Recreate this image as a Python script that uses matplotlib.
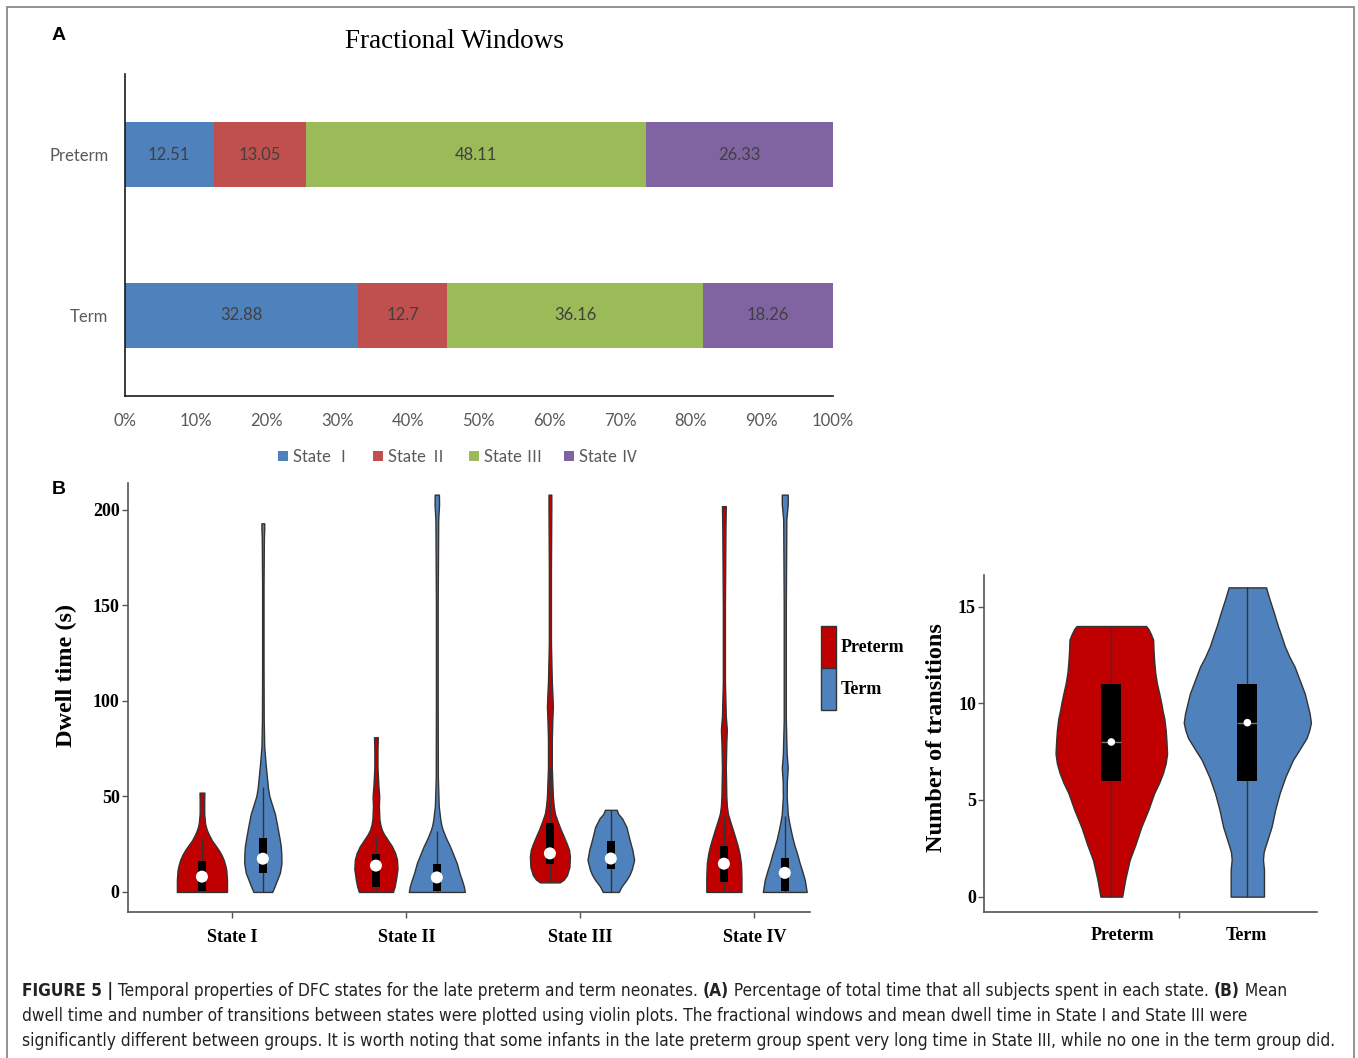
import os
import numpy as np
import matplotlib.pyplot as plt
from matplotlib import font_manager
from matplotlib.font_manager import FontProperties
from matplotlib.patches import Rectangle, Patch

# ---------------- data ----------------
groups = ['Term', 'Preterm']
states = ['State \u2160', 'State \u2161', 'State \u2162', 'State \u2163']
state_colors = ['#4F81BD', '#C0504D', '#9BBB59', '#8064A2']
frac_term = [32.88, 12.7, 36.16, 18.26]
frac_preterm = [12.51, 13.05, 48.11, 26.33]

dwell_states = ['State I', 'State II', 'State III', 'State IV']
group_names = ['Preterm', 'Term']
group_colors = ['#C00000', '#4F81BD']

# violin outlines for dwell time: levels (s) and half width (x units)
dwell_levels = {
    ('State I', 'Preterm'): [0, 6.3, 11.5, 14, 16.8, 19.5, 22, 24.5, 27, 30, 32.3, 34, 36, 41, 48, 52],
    ('State I', 'Term'): [0, 3, 6.3, 10, 15, 20, 24, 28, 32, 36, 41, 45, 50, 54, 58.6, 67, 76, 90, 120, 160,
                          185, 190, 193],
    ('State II', 'Preterm'): [0, 3, 6.3, 12, 17, 20.5, 24, 26, 28, 30, 32.5, 35, 38, 45, 50, 56, 65, 75, 81],
    ('State II', 'Term'): [0, 3, 6.3, 10, 15, 20, 24, 28, 32.5, 35, 38, 45, 60, 100, 150, 195, 203, 208],
    ('State III', 'Preterm'): [5, 6.5, 8.8, 13, 18.5, 22, 25, 29, 32.5, 37, 41, 45, 50, 65, 80, 90, 97, 104, 110,
                               130, 170, 200, 208],
    ('State III', 'Term'): [0, 2.8, 6.3, 9, 12, 16.8, 22, 27, 31, 34, 38.5, 41, 43],
    ('State IV', 'Preterm'): [0, 8, 15, 20, 24, 28, 32.5, 37, 41, 45, 50, 65, 78, 85, 92, 110, 150, 190, 202],
    ('State IV', 'Term'): [0, 6.3, 11, 15, 20, 24, 28, 32.5, 37, 41, 50, 58, 65, 72, 90, 150, 195, 203, 208],
}
dwell_widths = {
    ('State I', 'Preterm'): [0.144, 0.144, 0.140, 0.134, 0.125, 0.112, 0.096, 0.077, 0.057, 0.040, 0.029,
                             0.023, 0.018, 0.013, 0.013, 0.014],
    ('State I', 'Term'): [0.054, 0.068, 0.082, 0.098, 0.107, 0.106, 0.103, 0.096, 0.088, 0.080, 0.069, 0.055,
                          0.038, 0.030, 0.025, 0.016, 0.008, 0.005, 0.004, 0.004, 0.006, 0.008, 0.008],
    ('State II', 'Preterm'): [0.098, 0.108, 0.115, 0.124, 0.121, 0.110, 0.092, 0.077, 0.063, 0.048, 0.034,
                              0.026, 0.020, 0.017, 0.019, 0.014, 0.009, 0.009, 0.011],
    ('State II', 'Term'): [0.161, 0.155, 0.144, 0.130, 0.115, 0.093, 0.075, 0.054, 0.034, 0.026, 0.020,
                           0.011, 0.006, 0.005, 0.005, 0.008, 0.013, 0.012],
    ('State III', 'Preterm'): [0.057, 0.080, 0.098, 0.112, 0.115, 0.110, 0.098, 0.080, 0.063, 0.044, 0.029,
                               0.022, 0.017, 0.011, 0.011, 0.014, 0.017, 0.014, 0.011, 0.006, 0.006, 0.008,
                               0.008],
    ('State III', 'Term'): [0.046, 0.061, 0.090, 0.108, 0.121, 0.134, 0.124, 0.109, 0.098, 0.090, 0.065,
                            0.042, 0.034],
    ('State IV', 'Preterm'): [0.101, 0.101, 0.098, 0.090, 0.080, 0.067, 0.052, 0.036, 0.023, 0.017, 0.014,
                              0.011, 0.014, 0.017, 0.011, 0.006, 0.006, 0.009, 0.011],
    ('State IV', 'Term'): [0.126, 0.115, 0.100, 0.086, 0.071, 0.057, 0.045, 0.034, 0.024, 0.017, 0.011,
                           0.012, 0.017, 0.011, 0.006, 0.006, 0.009, 0.017, 0.017],
}
# box stats: whisker low, q1, median, q3, whisker high
dwell_box = {
    ('State I', 'Preterm'): [0, 0.5, 8, 16, 28],
    ('State I', 'Term'): [0, 10, 17.4, 28, 55],
    ('State II', 'Preterm'): [0, 2.8, 13.8, 19.7, 30],
    ('State II', 'Term'): [0, 0.5, 7.6, 14.5, 32],
    ('State III', 'Preterm'): [5, 14.7, 20.2, 36, 65],
    ('State III', 'Term'): [0, 11.8, 17.5, 26.8, 43],
    ('State IV', 'Preterm'): [0, 5.2, 14.8, 24.2, 40],
    ('State IV', 'Term'): [0, 0.5, 10, 18, 40],
}

# number of transitions
trans_levels = {
    'Preterm': [0, 0.9, 1.9, 2.7, 3.6, 4.5, 5.35, 5.9, 6.4, 6.9, 7.4, 8.1, 8.6, 9.2, 9.6, 10, 10.5, 11.05,
                11.6, 12.2, 12.8, 13.3, 13.6, 13.85, 14],
    'Term': [0, 1.4, 1.9, 2.3, 2.6, 3.1, 3.6, 4.5, 5.35, 6.2, 7.07, 7.6, 8.2, 8.6, 9.0, 9.49, 10, 10.5, 11.2,
             11.9, 12.4, 12.96, 13.5, 14, 14.7, 15.35, 15.7, 16],
}
trans_widths = {
    'Preterm': [0.032, 0.041, 0.054, 0.071, 0.088, 0.109, 0.126, 0.141, 0.152, 0.160, 0.164, 0.162, 0.160,
                0.156, 0.151, 0.147, 0.141, 0.134, 0.129, 0.126, 0.124, 0.123, 0.116, 0.109, 0.102],
    'Term': [0.049, 0.049, 0.046, 0.048, 0.053, 0.062, 0.071, 0.082, 0.095, 0.112, 0.134, 0.153, 0.174,
             0.182, 0.187, 0.183, 0.176, 0.169, 0.154, 0.139, 0.124, 0.110, 0.100, 0.090, 0.078, 0.066,
             0.060, 0.055],
}
trans_box = {
    'Preterm': [0, 6, 8, 11, 14],
    'Term': [0, 6, 9, 11, 16],
}

caption_lines = [
    [('FIGURE 5 |', True), (' Temporal properties of DFC states for the late preterm and term neonates. ', False),
     ('(A)', True), (' Percentage of total time that all subjects spent in each state. ', False),
     ('(B)', True), (' Mean', False)],
    [('dwell time and number of transitions between states were plotted using violin plots. The fractional '
      'windows and mean dwell time in State I and State III were', False)],
    [('significantly different between groups. It is worth noting that some infants in the late preterm group '
      'spent very long time in State III, while no one in the term group did.', False)],
]

# ---------------- figure ----------------
W, H = 1358, 1058
fig = plt.figure(figsize=(W / 100, H / 100), dpi=100)


def fx(x):
    return x / W


def fy(y):
    return 1 - y / H


def find_font(files):
    have = {os.path.basename(f.fname): f.fname for f in font_manager.fontManager.ttflist}
    for name in files:
        if name in have:
            return have[name]
    return None


cap_reg = find_font(['LiberationSansNarrow-Regular.ttf', 'DejaVuSansCondensed.ttf',
                     'RobotoCondensed-Regular.ttf', 'RobotoCondensed-Light.ttf'])
cap_bold = find_font(['LiberationSansNarrow-Bold.ttf', 'DejaVuSansCondensed-Bold.ttf',
                      'RobotoCondensed-Bold.ttf'])


def cap_props(bold):
    path = cap_bold if bold else cap_reg
    if path:
        return FontProperties(fname=path)
    return FontProperties(family='Liberation Sans', weight='bold' if bold else 'normal')


sans_a = ['Lato', 'Noto Sans CJK SC', 'DejaVu Sans']
serif = 'Liberation Serif'
dark = '#333333'

# frame
fig.add_artist(Rectangle((fx(7), fy(1080)), fx(1354) - fx(7), fy(7) - fy(1080), transform=fig.transFigure,
                         fill=False, edgecolor='#8a8a8a', lw=1.3))

# ---------------- panel A ----------------
ax_a = fig.add_axes([fx(125), fy(396), (832.5 - 125) / W, (396 - 74) / H])
ypos = np.arange(len(groups))
lefts = np.zeros(len(groups))
for i, st in enumerate(states):
    vals = np.array([frac_term[i], frac_preterm[i]])
    ax_a.barh(ypos, vals, left=lefts, height=0.4, color=state_colors[i], label=st)
    for y, l, v in zip(ypos, lefts, vals):
        ax_a.text(l + v / 2, y, f'{v:g}', ha='center', va='center', fontsize=12, color='#404040', family=sans_a)
    lefts += vals
ax_a.set_xlim(0, 100)
ax_a.set_ylim(-0.5, 1.5)
ax_a.set_xticks(np.arange(0, 101, 10))
ax_a.set_xticklabels([f'{v}%' for v in range(0, 101, 10)], family=sans_a, fontsize=12, color='#595959')
ax_a.set_yticks(ypos)
ax_a.set_yticklabels(groups, family=sans_a, fontsize=12, color='#595959')
ax_a.tick_params(length=0)
ax_a.tick_params(axis='x', pad=12)
ax_a.tick_params(axis='y', pad=12)
for s in ['top', 'right']:
    ax_a.spines[s].set_visible(False)
for s in ['left', 'bottom']:
    ax_a.spines[s].set_color('#1a1a1a')
    ax_a.spines[s].set_linewidth(1.2)
ax_a.legend(loc='center', bbox_to_anchor=(fx(458), fy(457)), bbox_transform=fig.transFigure, ncol=4,
            frameon=False, handlelength=0.6, handleheight=0.6, handletextpad=0.3, columnspacing=1.3,
            prop={'family': sans_a, 'size': 12}, labelcolor='#595959', borderpad=0)
fig.text(fx(125) + (fx(832.5) - fx(125)) * 0.465, fy(41), 'Fractional Windows', family=serif, fontsize=19.5,
         ha='center', va='center')
fig.text(fx(52), fy(35), 'A', family='Liberation Sans', fontweight='bold', fontsize=14, va='center')
fig.text(fx(52), fy(489), 'B', family='Liberation Sans', fontweight='bold', fontsize=14, va='center')


# ---------------- panel B helpers ----------------
def draw_violin(ax, c, lev, wid, color, box, box_hw, dot_size, med_line=False):
    lev = np.asarray(lev)
    wid = np.asarray(wid)
    ax.fill_betweenx(lev, c - wid, c + wid, facecolor=color, edgecolor=dark, lw=1.0, zorder=2)
    ax.vlines(c, box[0], box[4], color=dark, lw=1.0, zorder=3)
    ax.add_patch(Rectangle((c - box_hw, box[1]), 2 * box_hw, box[3] - box[1], facecolor='black',
                           edgecolor='none', zorder=4))
    if med_line:
        ax.hlines(box[2], c - box_hw, c + box_hw, color='#777777', lw=1.0, zorder=5)
    ax.scatter([c], [box[2]], s=dot_size, color='white', edgecolors='none', zorder=6)


def style_axes(ax):
    for s in ['top', 'right']:
        ax.spines[s].set_visible(False)
    for s in ['left', 'bottom']:
        ax.spines[s].set_color('#555555')
        ax.spines[s].set_linewidth(1.2)
    ax.tick_params(which='both', direction='out', length=4, width=1, color='#555555')
    ax.tick_params(axis='y', pad=2)
    for lab in ax.get_yticklabels():
        lab.set_family(serif)
        lab.set_fontweight('bold')
        lab.set_fontsize(13)


# ---------------- panel B: dwell time ----------------
ax_b = fig.add_axes([fx(128), fy(912), (810 - 128) / W, (912 - 483) / H])
offsets = [-0.175, 0.175]
for i, st in enumerate(dwell_states):
    for g, grp in enumerate(group_names):
        key = (st, grp)
        draw_violin(ax_b, i + offsets[g], dwell_levels[key], dwell_widths[key], group_colors[g],
                    dwell_box[key], 0.023, 75)
ax_b.set_xlim(-0.6, 3.32)
ax_b.set_ylim(-10.5, 214.1)
ax_b.set_yticks([0, 50, 100, 150, 200])
ax_b.set_xticks(range(len(dwell_states)))
ax_b.set_xticklabels(dwell_states, family=serif, fontweight='bold', fontsize=13)
style_axes(ax_b)
ax_b.tick_params(axis='x', pad=8)
ax_b.set_ylabel('Dwell time (s)', family=serif, fontweight='bold', fontsize=17.5, va='center')
ax_b.yaxis.set_label_coords((66 - 128) / (810 - 128), (912 - 675) / (912 - 483))

handles = [Patch(facecolor=c, edgecolor=dark, lw=1.0) for c in group_colors]
ax_b.legend(handles, group_names, loc='upper left', bbox_to_anchor=(fx(821), fy(626)),
            bbox_transform=fig.transFigure, frameon=False, handlelength=0.85, handleheight=3.2,
            labelspacing=0.0, handletextpad=0.25, borderpad=0, borderaxespad=0,
            prop={'family': serif, 'weight': 'bold', 'size': 13})

# ---------------- panel B: transitions ----------------
ax_c = fig.add_axes([fx(984.3), fy(911.7), (1316.7 - 984.3) / W, (911.7 - 575) / H])
for g, grp in enumerate(group_names):
    draw_violin(ax_c, [-0.2, 0.2][g], trans_levels[grp], trans_widths[grp], group_colors[g],
                trans_box[grp], 0.029, 30, med_line=True)
ax_c.set_xlim(-0.5735, 0.404)
ax_c.set_ylim(-0.78, 16.64)
ax_c.set_yticks([0, 5, 10, 15])
ax_c.set_xticks([-0.166, 0.197])
ax_c.set_xticklabels(group_names, family=serif, fontweight='bold', fontsize=13)
ax_c.set_xticks([0], minor=True)
style_axes(ax_c)
ax_c.tick_params(axis='x', which='major', length=0, pad=11)
ax_c.set_ylabel('Number of transitions', family=serif, fontweight='bold', fontsize=17.5, va='center')
ax_c.yaxis.set_label_coords((936.5 - 984.3) / (1316.7 - 984.3), (911.7 - 737.5) / (911.7 - 575))

# ---------------- caption ----------------
renderer = fig.canvas.get_renderer()
cap_color = '#222222'


def text_width(s, size, bold):
    fp = cap_props(bold)
    fp.set_size(size)
    t1 = fig.text(0, 0, s + '|', fontproperties=fp)
    t2 = fig.text(0, 0, '|', fontproperties=fp)
    w = t1.get_window_extent(renderer).width - t2.get_window_extent(renderer).width
    t1.remove()
    t2.remove()
    return w


trial = 10
w3 = sum(text_width(s, trial, b) for s, b in caption_lines[2])
cap_size = trial * (1318 / w3)
for ln, y in zip(caption_lines, [996, 1021, 1046]):
    x = 22
    for s, b in ln:
        fp = cap_props(b)
        fp.set_size(cap_size)
        fig.text(fx(x), fy(y), s, fontproperties=fp, color=cap_color, va='baseline')
        x += text_width(s, cap_size, b)

fig.savefig('out.png', dpi=100)
